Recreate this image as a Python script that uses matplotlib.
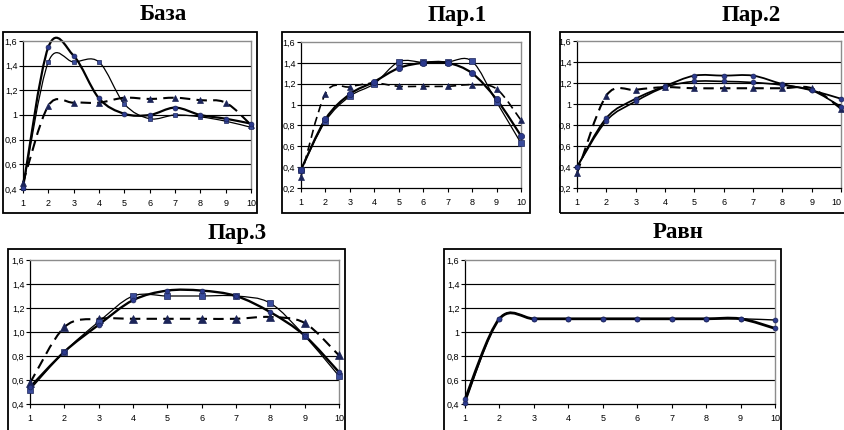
import numpy as np
import matplotlib
matplotlib.use('Agg')
import matplotlib.pyplot as plt
from matplotlib.path import Path
from matplotlib.patches import PathPatch, Rectangle

W, H = 844, 430

x_cat = [1, 2, 3, 4, 5, 6, 7, 8, 9, 10]

# База
baza_circ = [0.41, 1.55, 1.48, 1.135, 1.01, 1.00, 1.06, 1.00, 0.97, 0.93]
baza_sq = [0.41, 1.43, 1.43, 1.43, 1.09, 0.97, 1.00, 0.985, 0.95, 0.90]
baza_tri = [0.45, 1.075, 1.10, 1.10, 1.14, 1.13, 1.14, 1.12, 1.10, 0.92]

# Пар.1
par1_circ = [0.375, 0.86, 1.10, 1.22, 1.35, 1.40, 1.40, 1.30, 1.05, 0.70]
par1_sq = [0.375, 0.84, 1.08, 1.20, 1.41, 1.405, 1.41, 1.415, 1.025, 0.63]
par1_tri = [0.31, 1.105, 1.17, 1.205, 1.175, 1.175, 1.175, 1.19, 1.15, 0.85]

# Пар.2
par2_sq = [0.40, 0.867, 1.05, 1.17, 1.27, 1.27, 1.27, 1.19, 1.13, 1.05]
par2_circ = [0.40, 0.84, 1.025, 1.16, 1.215, 1.215, 1.205, 1.18, 1.13, 0.975]
par2_tri = [0.34, 1.08, 1.135, 1.16, 1.15, 1.15, 1.15, 1.15, 1.15, 0.955]

# Пар.3
par3_circ = [0.54, 0.835, 1.06, 1.265, 1.345, 1.345, 1.30, 1.165, 0.97, 0.665]
par3_sq = [0.52, 0.835, 1.085, 1.30, 1.30, 1.30, 1.30, 1.24, 0.967, 0.633]
par3_tri = [0.575, 1.04, 1.11, 1.11, 1.11, 1.11, 1.11, 1.125, 1.075, 0.805]

# Равн
ravn_a = [0.44, 1.11, 1.11, 1.11, 1.11, 1.11, 1.11, 1.11, 1.11, 1.03]
ravn_b = [0.41, 1.11, 1.11, 1.11, 1.11, 1.11, 1.11, 1.11, 1.11, 1.10]

yt_04 = [0.4, 0.6, 0.8, 1.0, 1.2, 1.4, 1.6]
yt_02 = [0.2, 0.4, 0.6, 0.8, 1.0, 1.2, 1.4, 1.6]
yl_04 = ['0,4', '0,6', '0,8', '1', '1,2', '1,4', '1,6']
yl_02 = ['0,2', '0,4', '0,6', '0,8', '1', '1,2', '1,4', '1,6']
yl_04b = ['0,4', '0,6', '0,8', '1,0', '1,2', '1,4', '1,6']

TICK_FONT = ['Liberation Sans Narrow', 'Liberation Sans', 'DejaVu Sans']
TITLE_FONT = ['Liberation Serif', 'DejaVu Serif']

C_CIRC = '#2c3a8e'
C_SQ = '#3a4c9c'
C_TRI = '#1b2458'


def smooth_patch(ax, x, y, lw, ls='-'):
    """excel-like smoothed line as bezier path"""
    pts = np.column_stack([x, y]).astype(float)
    n = len(pts)
    verts = [pts[0]]
    codes = [Path.MOVETO]
    for i in range(n - 1):
        p0 = pts[max(i - 1, 0)]
        p1 = pts[i]
        p2 = pts[i + 1]
        p3 = pts[min(i + 2, n - 1)]
        verts += [p1 + (p2 - p0) / 6.0, p2 - (p3 - p1) / 6.0, p2]
        codes += [Path.CURVE4] * 3
    patch = PathPatch(Path(verts, codes), fill=False, lw=lw, ec='black',
                      ls=ls, transform=ax.transData, clip_on=False,
                      capstyle='butt', joinstyle='round')
    ax.add_patch(patch)


def frame(fig, x0, y0, x1, y1):
    fig.add_artist(Rectangle((x0 / W, 1 - y1 / H), (x1 - x0) / W, (y1 - y0) / H,
                             transform=fig.transFigure, fill=False,
                             lw=1.3, ec='black'))


def panel(fig, x0, x1, ytop, ybot, ymin, yticks, ylabels, title, tx, ty):
    ax = fig.add_axes([x0 / W, 1 - ybot / H, (x1 - x0) / W, (ybot - ytop) / H])
    ax.set_xlim(1, 10)
    ax.set_ylim(ymin, 1.6)
    ax.set_xticks(x_cat)
    ax.set_xticklabels([str(v) for v in x_cat], family=TICK_FONT, fontsize=6.5)
    ax.set_yticks(yticks)
    ax.set_yticklabels(ylabels, family=TICK_FONT, fontsize=6.5)
    ax.tick_params(axis='x', length=3, width=0.8, pad=4)
    ax.tick_params(axis='y', length=3, width=0.8, pad=1)
    for v in yticks[1:-1]:
        ax.axhline(v, color='black', lw=0.85, zorder=1)
    ax.spines['top'].set_color('#8c8c8c')
    ax.spines['right'].set_color('#8c8c8c')
    ax.spines['top'].set_linewidth(1.0)
    ax.spines['right'].set_linewidth(1.0)
    ax.spines['left'].set_linewidth(0.9)
    ax.spines['bottom'].set_linewidth(0.9)
    fig.text(tx / W, 1 - ty / H, title, ha='center', va='center',
             family=TITLE_FONT, fontweight='bold', fontsize=16.5)
    return ax


def series(ax, y, lw, marker, color, ms, ls='-'):
    smooth_patch(ax, x_cat, y, lw, ls)
    ax.plot(x_cat, y, ls='none', marker=marker, ms=ms, mfc=color,
            mec=C_TRI, mew=0.5, clip_on=False, zorder=5)


fig = plt.figure(figsize=(W / 100, H / 100), dpi=100)

frame(fig, 3, 32, 257, 213)
frame(fig, 282, 32, 530, 213)
frame(fig, 560, 32, 850, 213)
frame(fig, 8, 249, 345, 440)
frame(fig, 444, 249, 781, 440)

ax = panel(fig, 23, 251, 41, 189, 0.4, yt_04, yl_04, 'База', 163, 15)
series(ax, baza_tri, 1.5, '^', C_TRI, 4.5, ls=(0, (5, 3)))
series(ax, baza_sq, 0.9, 's', C_SQ, 3.5)
series(ax, baza_circ, 1.6, 'o', C_CIRC, 3.5)

ax = panel(fig, 301, 521, 42, 188, 0.2, yt_02, yl_02, 'Пар.1', 457, 15)
series(ax, par1_tri, 1.2, '^', C_TRI, 4.5, ls=(0, (5, 3)))
series(ax, par1_sq, 0.9, 's', C_SQ, 4.5)
series(ax, par1_circ, 1.6, 'o', C_CIRC, 4.5)

ax = panel(fig, 577, 841, 41, 188, 0.2, yt_02, yl_02, 'Пар.2', 751, 15)
# last label sits at the picture edge, keep it inside
ax.get_xticklabels()[-1].set_horizontalalignment('right')
series(ax, par2_tri, 1.5, '^', C_TRI, 4.5, ls=(0, (5, 3)))
series(ax, par2_sq, 1.3, 'o', C_CIRC, 3.5)
series(ax, par2_circ, 1.2, 'o', C_CIRC, 3.5)

ax = panel(fig, 30, 339, 260, 404, 0.4, yt_04, yl_04b, 'Пар.3', 237, 233)
series(ax, par3_tri, 1.5, '^', C_TRI, 6, ls=(0, (5, 3)))
series(ax, par3_sq, 0.9, 's', C_SQ, 4)
series(ax, par3_circ, 1.7, 'o', C_CIRC, 3.5)

ax = panel(fig, 465, 775, 260, 404, 0.4, yt_04, yl_04, 'Равн', 678, 233)
series(ax, ravn_b, 1.0, 'o', C_CIRC, 3.5)
series(ax, ravn_a, 2.0, 'o', C_CIRC, 3.5)

fig.savefig('out.png', dpi=100)
